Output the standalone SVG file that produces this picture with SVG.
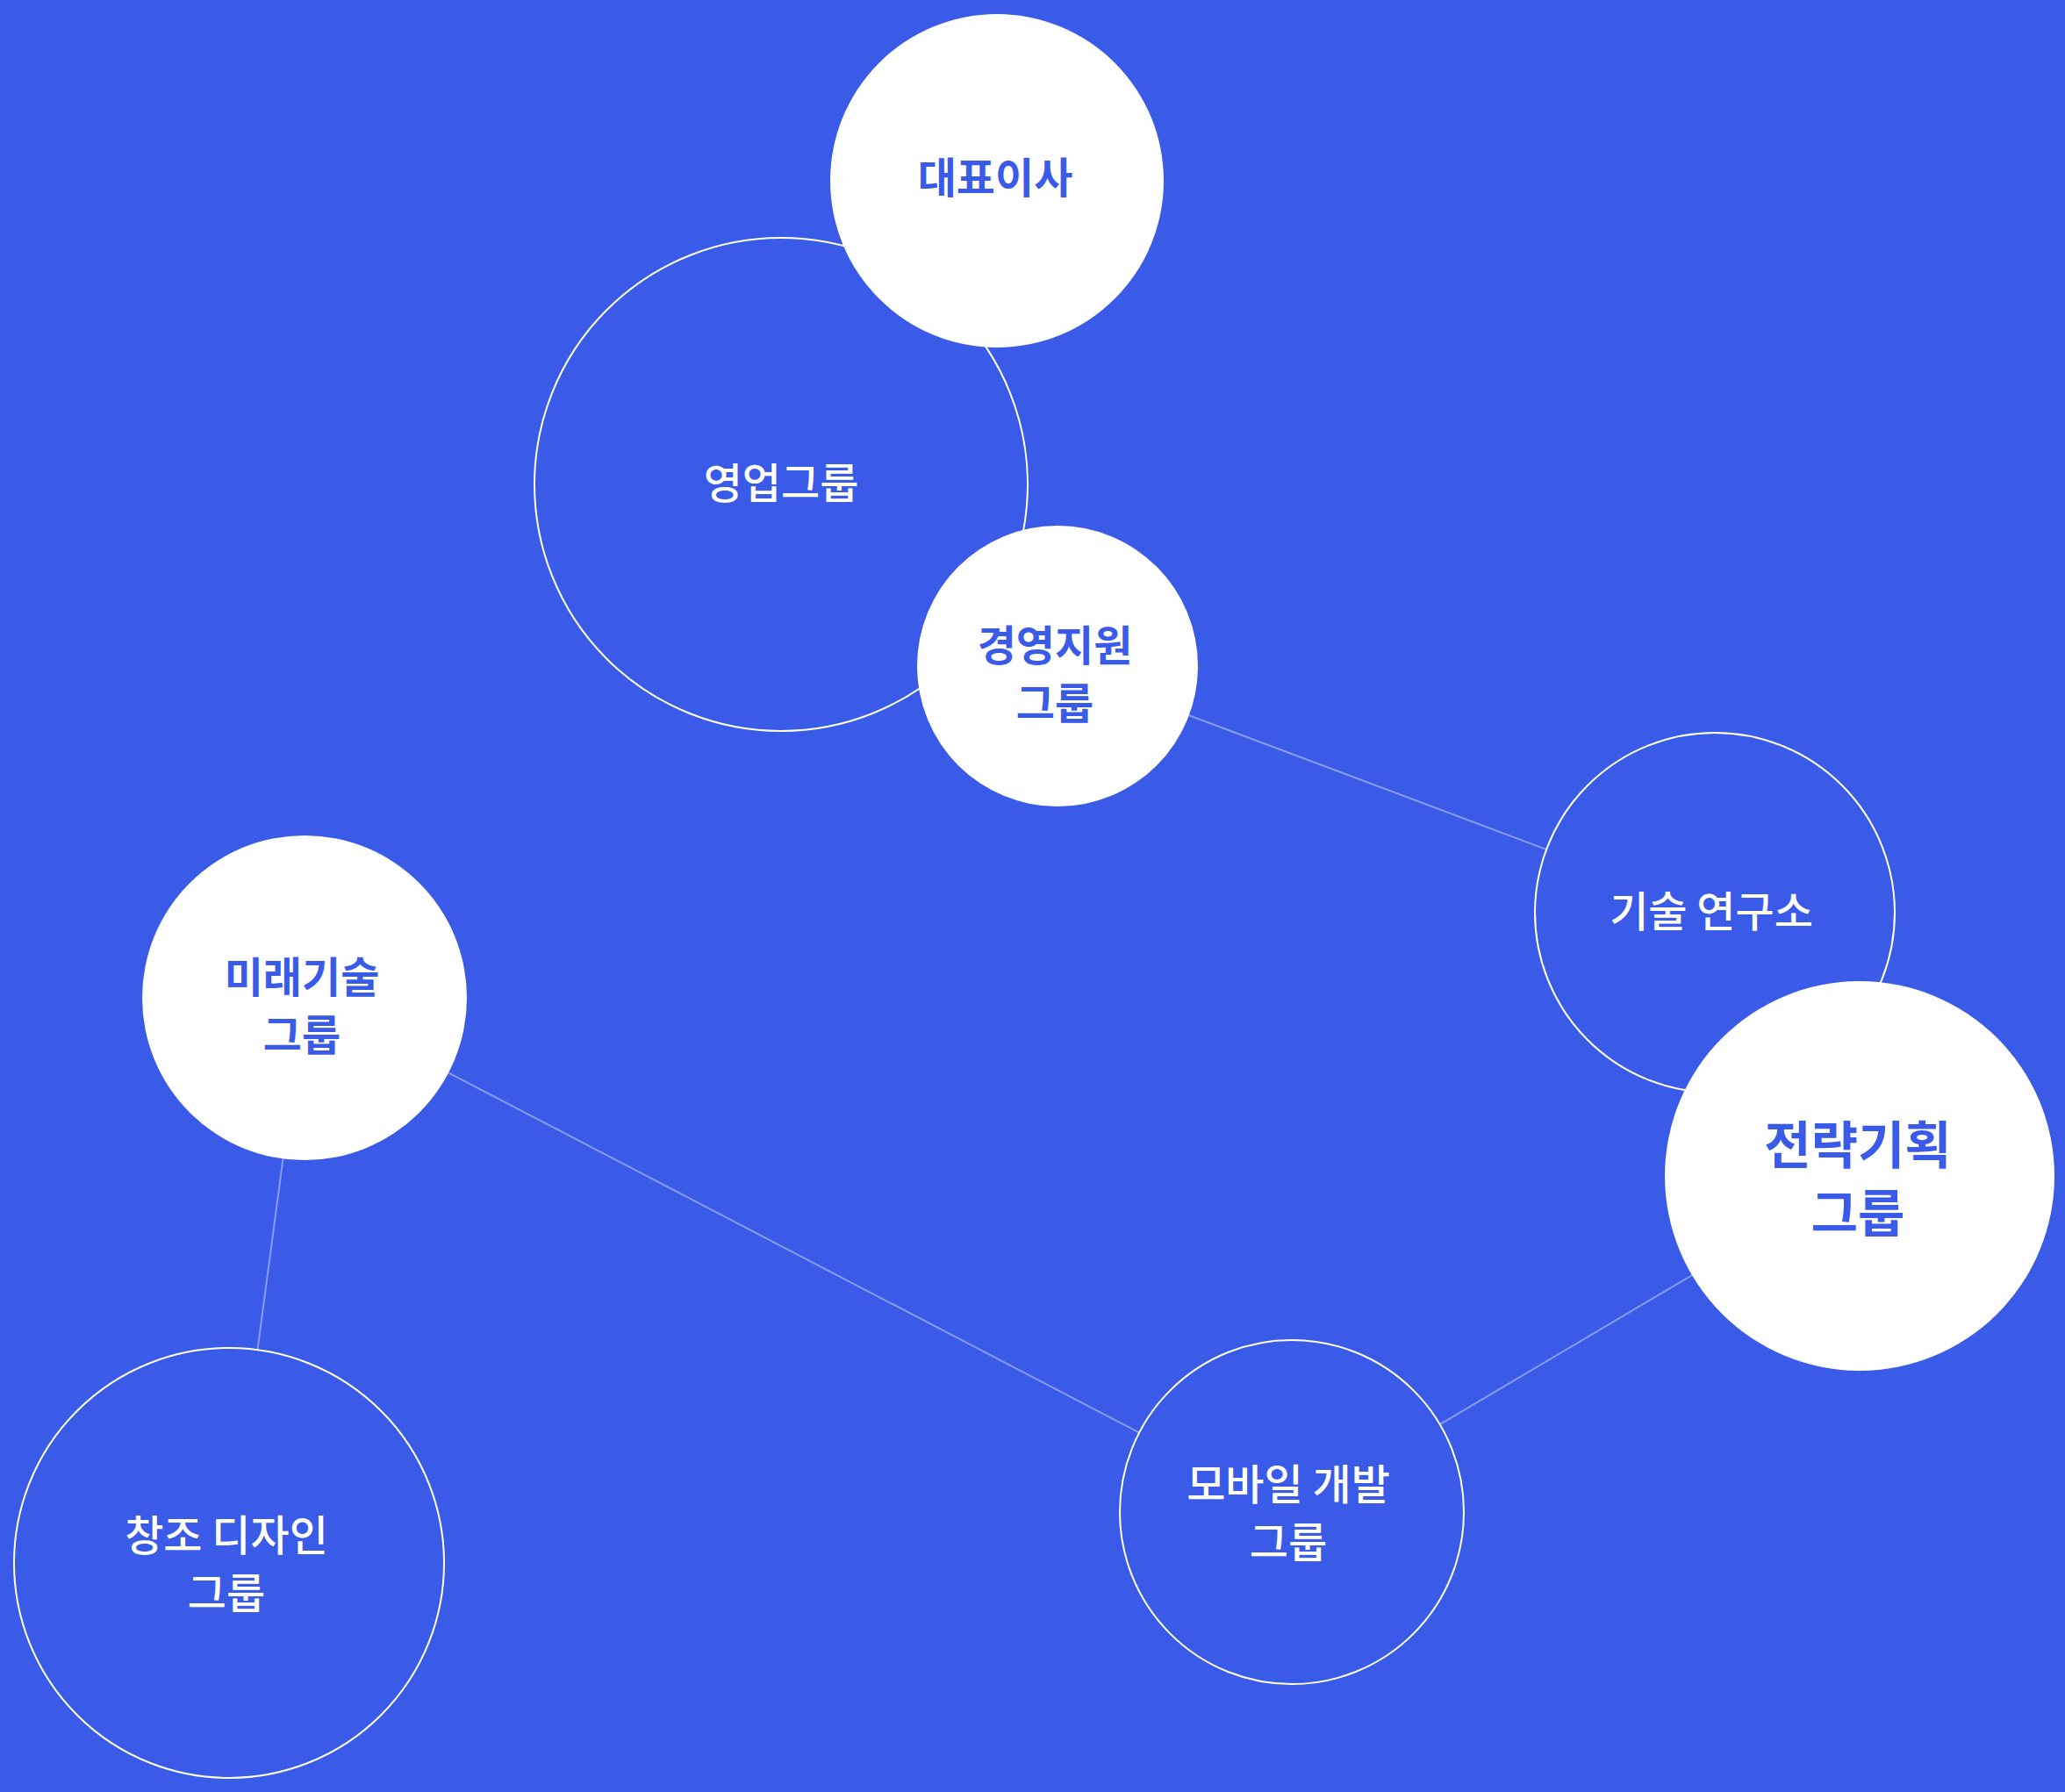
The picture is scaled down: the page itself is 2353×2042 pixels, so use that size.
<svg xmlns="http://www.w3.org/2000/svg" width="2353" height="2042" viewBox="0 0 2353 2042">
<style>
.bg{fill:#3A5AE8}
.o{fill:#3A5AE8;stroke:#fff;stroke-width:2}
.f{fill:#fff}
.c{stroke:#fff;stroke-opacity:0.4;stroke-width:2;fill:none}
text{font-family:"Noto Sans CJK KR","Noto Sans",sans-serif;font-size:48px;text-anchor:middle}
.tw{fill:#fff;font-weight:500}
.tb{fill:#3A5AE8;font-weight:700}
</style>
<rect class="bg" width="2353" height="2042"/>
<g id="connectors">
<line class="c" x1="1205" y1="759" x2="1954" y2="1040"/>
<line class="c" x1="347" y1="1137" x2="1472" y2="1723"/>
<line class="c" x1="347" y1="1137" x2="261" y2="1781"/>
<line class="c" x1="2119" y1="1340" x2="1472" y2="1723"/>
</g>
<g id="sales"><circle class="o" cx="890" cy="552" r="281"/><text class="tw" x="890" y="568">영업그룹</text></g>
<g id="ceo"><circle class="f" cx="1136" cy="206" r="190"/><text class="tb" x="1134" y="220">대표이사</text></g>
<g id="mgmt"><circle class="f" cx="1205" cy="759" r="160"/><text class="tb" x="1202" y="753">경영지원</text><text class="tb" x="1202" y="819">그룹</text></g>
<g id="lab"><circle class="o" cx="1954" cy="1040" r="205"/><text class="tw" x="1950" y="1056">기술 연구소</text></g>
<g id="strategy"><circle class="f" cx="2119" cy="1340" r="222"/><text class="tb" x="2117" y="1326" style="font-size:58px">전략기획</text><text class="tb" x="2117" y="1404" style="font-size:58px">그룹</text></g>
<g id="future"><circle class="f" cx="347" cy="1137" r="185"/><text class="tb" x="344" y="1131">미래기술</text><text class="tb" x="344" y="1197">그룹</text></g>
<g id="design"><circle class="o" cx="261" cy="1781" r="245"/><text class="tw" x="258" y="1767">창조 디자인</text><text class="tw" x="258" y="1833">그룹</text></g>
<g id="mobile"><circle class="o" cx="1472" cy="1723" r="196"/><text class="tw" x="1468" y="1709">모바일 개발</text><text class="tw" x="1468" y="1775">그룹</text></g>
</svg>
